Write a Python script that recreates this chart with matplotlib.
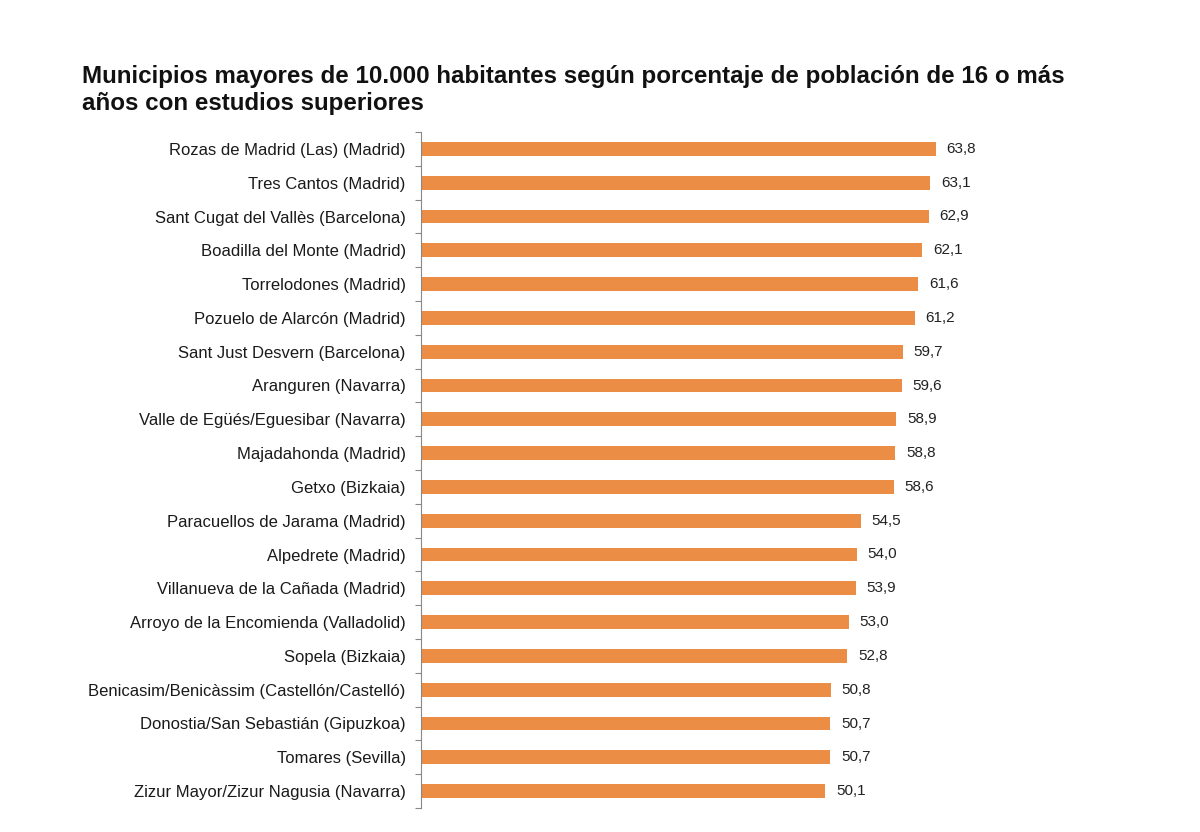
import matplotlib
matplotlib.use("Agg")
import matplotlib.pyplot as plt
import numpy as np

plt.rcParams['font.family'] = ['Liberation Sans', 'DejaVu Sans']

municipios = [
    "Rozas de Madrid (Las) (Madrid)",
    "Tres Cantos (Madrid)",
    "Sant Cugat del Vallès (Barcelona)",
    "Boadilla del Monte (Madrid)",
    "Torrelodones (Madrid)",
    "Pozuelo de Alarcón (Madrid)",
    "Sant Just Desvern (Barcelona)",
    "Aranguren (Navarra)",
    "Valle de Egüés/Eguesibar (Navarra)",
    "Majadahonda (Madrid)",
    "Getxo (Bizkaia)",
    "Paracuellos de Jarama (Madrid)",
    "Alpedrete (Madrid)",
    "Villanueva de la Cañada (Madrid)",
    "Arroyo de la Encomienda (Valladolid)",
    "Sopela (Bizkaia)",
    "Benicasim/Benicàssim (Castellón/Castelló)",
    "Donostia/San Sebastián (Gipuzkoa)",
    "Tomares (Sevilla)",
    "Zizur Mayor/Zizur Nagusia (Navarra)",
]
porcentajes = [63.8, 63.1, 62.9, 62.1, 61.6, 61.2, 59.7, 59.6, 58.9, 58.8,
               58.6, 54.5, 54.0, 53.9, 53.0, 52.8, 50.8, 50.7, 50.7, 50.1]

titulo = ("Municipios mayores de 10.000 habitantes según porcentaje de población de 16 o más\n"
          "años con estudios superiores")

W, H = 1200, 832
fig = plt.figure(figsize=(W / 100, H / 100), dpi=100)
left, right = 421, 1002
top, bottom = 132, 808
ax = fig.add_axes([left / W, 1 - bottom / H, (right - left) / W, (bottom - top) / H])

n = len(municipios)
y = np.arange(n)
bar_color = '#EC8D45'
ax.barh(y, porcentajes, height=0.41, color=bar_color, edgecolor='none')
ax.set_xlim(0, 72)
ax.set_ylim(n - 0.5, -0.5)

for yi, v in zip(y, porcentajes):
    ax.text(v + 1.35, yi, f"{v:.1f}".replace('.', ','), va='center', ha='left',
            fontsize=11, color='#222222')

ax.set_yticks(y)
ax.set_yticklabels(municipios, fontsize=12, color='#1a1a1a')
ax.tick_params(axis='y', which='major', length=0, pad=11)
ax.set_yticks(np.arange(-0.5, n, 1), minor=True)
ax.tick_params(axis='y', which='minor', length=4, width=0.8, color='#888888', direction='out')
ax.set_xticks([])
for s in ['top', 'right', 'bottom']:
    ax.spines[s].set_visible(False)
ax.spines['left'].set_color('#888888')
ax.spines['left'].set_linewidth(0.8)

fig.text(82 / W, 1 - 65 / H, titulo, fontsize=17.4, fontweight='bold', color='#111111',
         ha='left', va='top', linespacing=1.22)

fig.savefig('out.png', dpi=100, facecolor='white')
